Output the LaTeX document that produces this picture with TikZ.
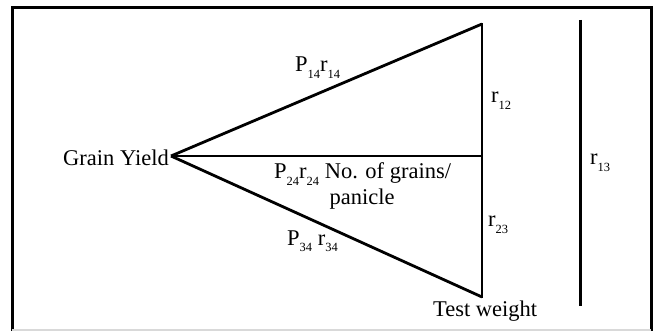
\documentclass[tikz,border=0pt]{standalone}
\usepackage{fontspec}
\setmainfont{Liberation Serif}
\newcommand{\sbx}[1]{\raisebox{-0.28em}{\fontsize{12.5}{12.5}\selectfont #1}}
\begin{document}
\begin{tikzpicture}[x=1pt,y=-1pt,
  lbl/.style={inner sep=0pt,font=\fontsize{22.5}{27}\selectfont},
  edge/.style={line width=2.8pt},
  frame/.style={line width=3pt}]
\useasboundingbox (0,0) rectangle (656,331);
\fill[white] (0,0) rectangle (656,331);
% frame
\draw[frame] (12,331) -- (12,7.5) -- (651,7.5) -- (651,331);
\draw[gray!30,line width=1.5pt] (12,330) -- (651,330);
% vertices
\coordinate (gy) at (171,156);
\coordinate (top) at (482,24);
\coordinate (mid) at (482,156);
\coordinate (bot) at (482,297);
\coordinate (r13a) at (580,20);
\coordinate (r13b) at (580,306);
\draw[edge] (gy) -- (top);
\draw[edge] (gy) -- (mid);
\draw[edge] (gy) -- (bot);
\draw[edge,line cap=rect] (top) -- (bot);
\draw[line width=3pt] (r13a) -- (r13b);
% labels
\node[lbl,anchor=base east] (grain) at (169,166) {Grain Yield};
\node[lbl,anchor=base west] (p14) at (295,72) {P\sbx{14}r\sbx{14}};
\node[lbl,anchor=base west] (r12) at (491,103) {r\sbx{12}};
\node[lbl,anchor=base west] (p24) at (274,179) {P\sbx{24}r\sbx{24} No. of grains/};
\node[lbl,anchor=base] (pan) at (362,205) {panicle};
\node[lbl,anchor=base west] (r23) at (488,227) {r\sbx{23}};
\node[lbl,anchor=base west] (p34) at (287,245) {P\sbx{34} r\sbx{34}};
\node[lbl,anchor=base west] (tw) at (433,316) {Test weight};
\node[lbl,anchor=base west] (r13) at (590,165) {r\sbx{13}};
\end{tikzpicture}
\end{document}
